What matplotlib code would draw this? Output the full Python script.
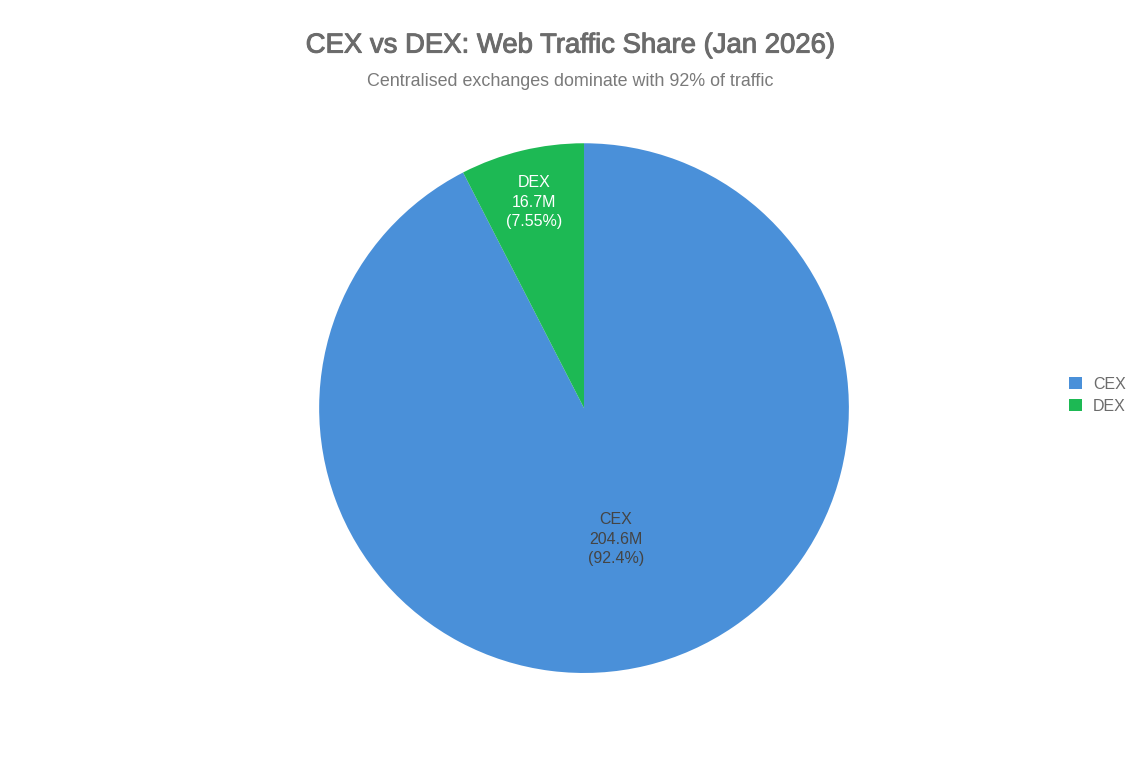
import numpy as np
import matplotlib.pyplot as plt
import matplotlib.patheffects as pe
from matplotlib.patches import Patch

plt.rcParams['font.family'] = ['Liberation Sans', 'DejaVu Sans']

labels = ['CEX', 'DEX']
visits = [204.6, 16.7]  # millions
share_pct = ['92.4%', '7.55%']  # as printed on the chart
colors = ['#4A90D9', '#1DB954']
text_colors = ['#444444', '#ffffff']

fig = plt.figure(figsize=(11.4, 7.6), dpi=100)
ax = fig.add_axes([0.2798, 0.1145, 0.465, 0.697])

wedges, _ = ax.pie(visits, colors=colors, startangle=90, counterclock=False,
                   radius=1.0, wedgeprops=dict(linewidth=0))
ax.set_xlim(-1, 1)
ax.set_ylim(-1, 1)
ax.set_aspect('equal')

# inside label distances
label_r = [0.51, 0.80]
for w, lab, v, p, r, tc in zip(wedges, labels, visits, share_pct, label_r, text_colors):
    mid = np.radians((w.theta1 + w.theta2) / 2)
    ax.text(r * np.cos(mid), r * np.sin(mid), f"{lab}\n{v:.1f}M\n({p})",
            ha='center', va='center', fontsize=11.5, color=tc, linespacing=1.38)

title = fig.text(0.5, 0.94, 'CEX vs DEX: Web Traffic Share (Jan 2026)', ha='center', va='center',
                 fontsize=19.8, color='#6b6b6b')
title.set_path_effects([pe.withStroke(linewidth=0.7, foreground='#6b6b6b')])
fig.text(0.5, 0.893, 'Centralised exchanges dominate with 92% of traffic', ha='center', va='center',
         fontsize=12.9, color='#7a7a7a')

handles = [Patch(facecolor=c, edgecolor='none') for c in colors]
fig.legend(handles, labels, loc='center left', bbox_to_anchor=(0.925, 0.48), frameon=False,
           fontsize=11.5, handlelength=0.8, handleheight=0.8, handletextpad=0.7,
           labelspacing=0.45, labelcolor='#6b6b6b')

fig.savefig('out.png', dpi=100, facecolor='white')
